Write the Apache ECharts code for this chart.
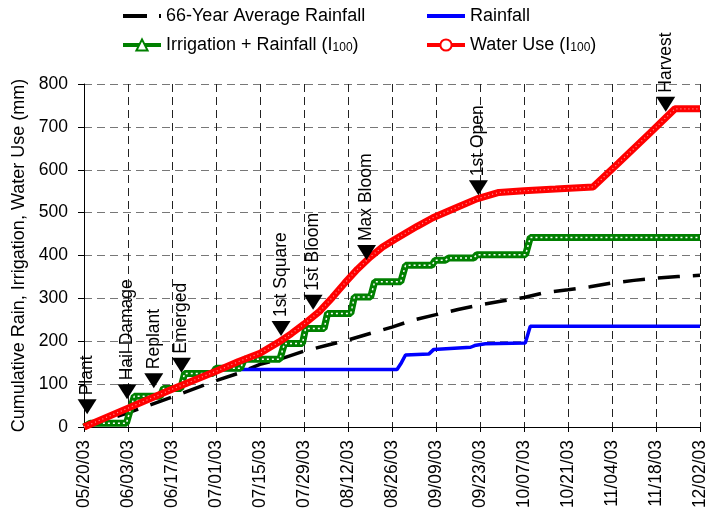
<!DOCTYPE html>
<html>
<head>
<meta charset="utf-8">
<script src="https://cdn.jsdelivr.net/npm/echarts@6/dist/echarts.min.js"></script>
<style>
html,body{margin:0;padding:0;background:#fff;}
#chart{width:709px;height:517px;}
</style>
</head>
<body>
<div id="chart"></div>
<script>
// x values are days after planting (05/20/03)
const xTickLabels = ['05/20/03','06/03/03','06/17/03','07/01/03','07/15/03','07/29/03','08/12/03','08/26/03','09/09/03','09/23/03','10/07/03','10/21/03','11/04/03','11/18/03','12/02/03'];

const avgDays = [0,14,28,42,49,56,63,70,77,84,91,98,105,112,119,126,133,140,147,154,161,168,175,182,189,196];
const avgRain = [0,33,70,108,125,146,160,177,190,203,218,233,250,262,274,285,294,302,314,320,327,336,342,347,351,354];

const rainDays = [0,2,13.5,16,24.3,25.3,30.8,32,41,42,99.6,101,102.3,109.7,111.3,123,124.3,127.7,140.4,142,196];
const rainVals = [0,7,7,70,70,88,88,122,122,134,134,150,168,170,181,186,190,194,196,235,235];

const irrDays = [0,2,13.5,16,24.3,25.3,30.8,32,41,42,49.8,51,62.3,63.8,69.5,70.5,76.4,77.5,84.9,86,91.2,92.5,100.8,102.3,110.7,111.7,115,116,124,125,140.5,142,196];
const irrVals = [0,9,9,72,72,90,90,125,125,137,137,158,158,195,195,230,230,265,265,303,303,339,339,377,377,389,389,394,394,402,402,442,442];

const useDays = [0,14,28,42,49,56,62,66,70,75,79,83,87,91,95,99,106,111,118,125,132,140,150,162,170,180,188,196];
const useVals = [0,44,88,130,152,172,198,218,240,270,302,336,368,396,420,438,468,488,510,532,547,551,555,560,615,685,742,742];

const eventNames = ['Plant','Hail Damage','Replant','Emerged','1st Square','1st Bloom','Max Bloom','1st Open','Harvest'];
const eventDays = [1,13.7,22.2,31,62.7,72.9,89.9,125.5,185.1];
const eventLevels = [47,82,108,144,230,291,407,558,753];

const zip = (xs, ys) => xs.map((x, i) => [x, ys[i]]);
const FONT = 'Liberation Sans, Arial, sans-serif';

const legendFormatter = name => name.replace('(I100)', '(I{s|100})');
const legendText = {
  fontSize: 18, color: '#000', fontFamily: FONT,
  rich: { s: { fontSize: 12, fontFamily: FONT, color: '#000', verticalAlign: 'bottom', lineHeight: 12, padding: [9, 0, 0, 0] } }
};
// legend icons: 38 x 14 box (corner specks keep the box), line 4px tall in the middle
const dashIcon = 'path://M0,0h0.01v0.01h-0.01z M0,5h24v4h-24z M36,5h2v4h-2z M37.99,13.99h0.01v0.01h-0.01z';
const solidIcon = 'path://M0,0h0.01v0.01h-0.01z M0,5h38v4h-38z M37.99,13.99h0.01v0.01h-0.01z';

const chart = echarts.init(document.getElementById('chart'));
chart.setOption({
  animation: false,
  textStyle: { fontFamily: FONT },
  grid: { left: 84, right: 7, top: 84, bottom: 90 },
  legend: [
    {
      left: 121, top: 7, padding: 0, orient: 'vertical', itemWidth: 38, itemHeight: 14, itemGap: 8,
      textStyle: legendText, formatter: legendFormatter, lineStyle: { width: 4 },
      data: [{ name: '66-Year Average Rainfall', icon: dashIcon, itemStyle: { color: '#000' } },
             'Irrigation + Rainfall (I100)']
    },
    {
      left: 425, top: 7, padding: 0, orient: 'vertical', itemWidth: 38, itemHeight: 14, itemGap: 8,
      textStyle: legendText, formatter: legendFormatter, lineStyle: { width: 4 },
      data: [{ name: 'Rainfall', icon: solidIcon, itemStyle: { color: '#0000ff' } },
             'Water Use (I100)']
    }
  ],
  xAxis: {
    type: 'value', min: 0, max: 196, interval: 14,
    axisLine: { lineStyle: { color: '#000', width: 1 } },
    axisTick: { show: true, length: 5, lineStyle: { color: '#000' } },
    axisLabel: { rotate: 90, margin: 13, fontSize: 17.5, color: '#000', fontFamily: FONT,
      formatter: v => xTickLabels[Math.round(v / 14)] },
    splitLine: { show: true, lineStyle: { color: '#222', width: 1, type: [8, 5] } }
  },
  yAxis: {
    type: 'value', min: 0, max: 800, interval: 100,
    axisLine: { show: true, lineStyle: { color: '#000', width: 1 } },
    axisTick: { show: true, length: 6, lineStyle: { color: '#000' } },
    axisLabel: { margin: 16, fontSize: 17.5, color: '#000', fontFamily: FONT },
    splitLine: { show: true, lineStyle: { color: '#777', width: 1, type: [8, 5] } },
    name: 'Cumulative Rain, Irrigation, Water Use (mm)',
    nameLocation: 'middle', nameGap: 53,
    nameTextStyle: { fontSize: 18, color: '#000', fontFamily: FONT }
  },
  series: [
    {
      name: '66-Year Average Rainfall', type: 'line', data: zip(avgDays, avgRain),
      symbol: 'none', showSymbol: false, z: 2,
      lineStyle: { color: '#000', width: 3.5, type: [22, 13], cap: 'butt' },
      itemStyle: { color: '#000' }
    },
    {
      name: 'Rainfall', type: 'line', data: zip(rainDays, rainVals),
      symbol: 'none', showSymbol: false, z: 3,
      lineStyle: { color: '#0000ff', width: 3.5 }, itemStyle: { color: '#0000ff' }
    },
    {
      name: 'Irrigation + Rainfall (I100)', type: 'line', data: zip(irrDays, irrVals),
      symbol: 'emptyTriangle', symbolSize: 8, showSymbol: false, z: 4,
      lineStyle: { color: '#008000', width: 7 }, itemStyle: { color: '#008000', borderColor: '#008000' }
    },
    {
      name: 'irrTexture', type: 'line', data: zip(irrDays, irrVals), silent: true,
      symbol: 'none', showSymbol: false, z: 5,
      lineStyle: { color: '#ffffff', width: 1.5, type: [2, 3] }
    },
    {
      name: 'Water Use (I100)', type: 'line', data: zip(useDays, useVals),
      symbol: 'emptyCircle', symbolSize: 6, showSymbol: false, z: 6,
      lineStyle: { color: '#ff0000', width: 7 }, itemStyle: { color: '#ff0000', borderColor: '#ff0000' }
    },
    {
      name: 'useTexture', type: 'line', data: zip(useDays, useVals), silent: true,
      symbol: 'none', showSymbol: false, z: 7,
      lineStyle: { color: '#ff9a9a', width: 1.2, type: [1, 3] }
    },
    {
      name: 'events', type: 'scatter', z: 10, silent: true,
      data: eventNames.map((n, i) => ({ name: n, value: [eventDays[i], eventLevels[i]] })),
      symbol: 'triangle', symbolRotate: 180, symbolSize: [19, 15],
      itemStyle: { color: '#000', opacity: 1 },
      label: {
        show: true, position: 'top', distance: 4, rotate: 90, align: 'left', verticalAlign: 'middle',
        formatter: p => p.name, fontSize: 17.5, color: '#000', fontFamily: FONT
      }
    }
  ]
});
</script>
</body>
</html>
